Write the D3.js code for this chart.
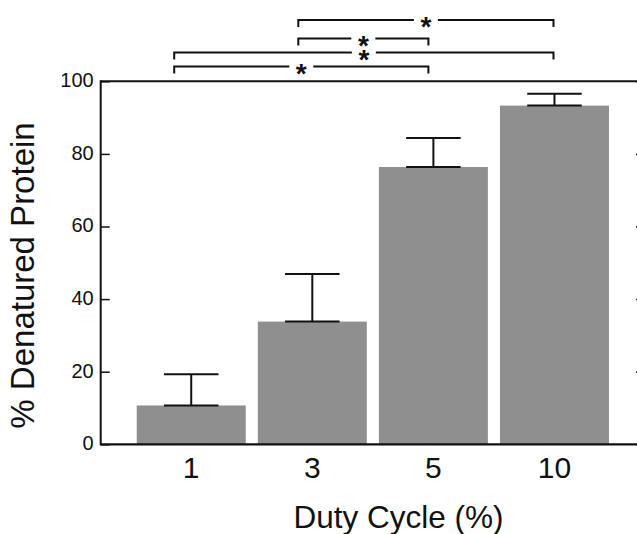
<!DOCTYPE html>
<html>
<head>
<meta charset="utf-8">
<script src="https://cdn.jsdelivr.net/npm/d3@7"></script>
<style>
  html, body { margin: 0; padding: 0; background: #fff; }
  svg { display: block; font-family: "Liberation Sans", Arial, Helvetica, sans-serif; }
</style>
</head>
<body>
<svg id="chart" width="637" height="534"></svg>
<script>
// ---- data ----
const categories = ["1", "3", "5", "10"];
const means = [10.7, 33.8, 76.4, 93.3];
const errors = [8.6, 13.1, 8.0, 3.3];
const yTicks = [0, 20, 40, 60, 80, 100];
const comparisons = [["1", "5"], ["1", "10"], ["3", "5"], ["3", "10"]];
const sigLabels = ["*", "*", "*", "*"];
const xTitle = "Duty Cycle (%)";
const yTitle = "% Denatured Protein";

// ---- layout ----
const W = 637, H = 534;
const plotL = 100.7, plotR = 645, plotT = 81.3, plotB = 444.3;
const svg = d3.select("#chart");

const x = d3.scaleBand().domain(categories).range([plotL, plotR])
  .paddingInner(0.1).paddingOuter(0.2975);
const y = d3.scaleLinear().domain([0, 100]).range([plotB, plotT]);

// bars
svg.append("g").selectAll("rect").data(categories).join("rect")
  .attr("x", d => x(d))
  .attr("y", (d, i) => y(means[i]))
  .attr("width", x.bandwidth())
  .attr("height", (d, i) => y(0) - y(means[i]))
  .attr("fill", "#8f8f8f");

// error bars
const capW = x.bandwidth() * 0.5;
const eb = svg.append("g").attr("stroke", "#111").attr("stroke-width", 2).attr("fill", "none");
categories.forEach((c, i) => {
  const cx = x(c) + x.bandwidth() / 2;
  const y0 = y(means[i]), y1 = y(means[i] + errors[i]);
  eb.append("line").attr("x1", cx).attr("x2", cx).attr("y1", y0).attr("y2", y1);
  eb.append("line").attr("x1", cx - capW / 2).attr("x2", cx + capW / 2).attr("y1", y1).attr("y2", y1);
  eb.append("line").attr("x1", cx - capW / 2).attr("x2", cx + capW / 2).attr("y1", y0).attr("y2", y0);
});

// left axis (inward ticks)
const yAxisL = svg.append("g").attr("transform", `translate(${plotL},0)`)
  .call(d3.axisLeft(y).tickValues(yTicks).tickSize(-9).tickPadding(7).tickFormat(d3.format("d")));
yAxisL.select(".domain").remove();
yAxisL.selectAll(".tick line").attr("stroke", "#111").attr("stroke-width", 1.5);
yAxisL.selectAll("text").attr("font-size", 20).attr("fill", "#111").attr("dy", "0.27em")
  .attr("font-family", "Liberation Sans, Arial, sans-serif");

// right axis (inward ticks, mostly off-canvas)
const yAxisR = svg.append("g").attr("transform", `translate(${plotR},0)`)
  .call(d3.axisLeft(y).tickValues(yTicks).tickSize(9).tickFormat(""));
yAxisR.select(".domain").remove();
yAxisR.selectAll(".tick line").attr("stroke", "#111").attr("stroke-width", 1.5);

// frame
const frame = svg.append("g").attr("stroke", "#111").attr("fill", "none");
frame.append("line").attr("x1", plotL).attr("x2", plotR).attr("y1", y(100)).attr("y2", y(100)).attr("stroke-width", 2);
frame.append("line").attr("x1", plotL).attr("x2", plotR).attr("y1", y(0)).attr("y2", y(0)).attr("stroke-width", 2.2);
frame.append("line").attr("x1", plotL).attr("x2", plotL).attr("y1", y(100) - 1).attr("y2", y(0) + 1).attr("stroke-width", 2);

// x tick labels
svg.append("g").selectAll("text").data(categories).join("text")
  .attr("x", d => x(d) + x.bandwidth() / 2)
  .attr("y", 477.5)
  .attr("text-anchor", "middle")
  .attr("font-size", 30)
  .attr("fill", "#111")
  .text(d => d);

// axis titles
svg.append("text").attr("x", 398.5).attr("y", 527.5).attr("text-anchor", "middle")
  .attr("font-size", 31.5).attr("fill", "#111").text(xTitle);
svg.append("text").attr("transform", "translate(33.5,275.5) rotate(-90)")
  .attr("text-anchor", "middle").attr("font-size", 33).attr("fill", "#111").text(yTitle);

// significance brackets
const anchorOffset = { "1": -17, "3": -14, "5": -5, "10": -1 };
const levels = [66.5, 52.5, 38.5, 20];
const drop = 7, gap = 12;
const br = svg.append("g").attr("stroke", "#111").attr("stroke-width", 2).attr("fill", "none");
comparisons.forEach((cmp, i) => {
  const xa = x(cmp[0]) + x.bandwidth() / 2 + anchorOffset[cmp[0]];
  const xb = x(cmp[1]) + x.bandwidth() / 2 + anchorOffset[cmp[1]];
  const ly = levels[i];
  const mid = (xa + xb) / 2;
  br.append("path").attr("d", `M${xa},${ly + drop}V${ly}H${mid - gap}`);
  br.append("path").attr("d", `M${mid + gap},${ly}H${xb}V${ly + drop}`);
  svg.append("text").attr("x", mid).attr("y", ly + 16).attr("text-anchor", "middle")
    .attr("font-size", 28).attr("font-weight", "bold").attr("fill", "#111").text(sigLabels[i]);
});
</script>
</body>
</html>
